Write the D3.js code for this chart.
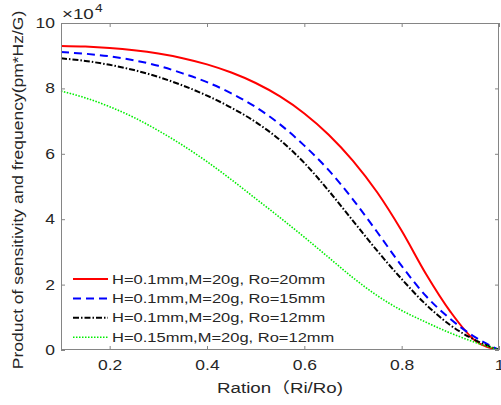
<!DOCTYPE html>
<html>
<head>
<meta charset="utf-8">
<script src="https://cdnjs.cloudflare.com/ajax/libs/d3/7.8.5/d3.min.js"></script>
<style>
  body { margin: 0; background: #fff; }
  svg { display: block; }
  text { font-family: "Liberation Sans", Arial, "Noto Sans CJK SC", sans-serif; fill: #262626; }
</style>
</head>
<body>
<svg id="chart" width="501" height="405"></svg>
<script>
// Ratio Ri/Ro
var ratios = [0.10, 0.15, 0.20, 0.25, 0.30, 0.35, 0.40, 0.45, 0.50, 0.55,
              0.60, 0.65, 0.70, 0.75, 0.80, 0.85, 0.90, 0.95, 1.00];

// product of sensitivity and frequency, in units of 1e4 pm*Hz/G
var ro20 = [9.30, 9.28, 9.235, 9.165, 9.065, 8.925, 8.735, 8.485, 8.165, 7.755,
            7.235, 6.585, 5.785, 4.815, 3.645, 2.325, 1.175, 0.30, 0.00];
var ro15 = [9.11, 9.06, 8.98, 8.86, 8.69, 8.46, 8.19, 7.85, 7.43, 6.90,
            6.25, 5.50, 4.60, 3.60, 2.57, 1.65, 0.95, 0.40, 0.00];
var ro12 = [8.92, 8.84, 8.72, 8.56, 8.35, 8.09, 7.78, 7.41, 6.97, 6.42,
            5.72, 4.87, 3.95, 3.03, 2.17, 1.39, 0.76, 0.31, 0.00];
var h015ro12 = [7.92, 7.71, 7.44, 7.11, 6.71, 6.26, 5.76, 5.21, 4.63, 4.05,
                3.45, 2.83, 2.21, 1.66, 1.21, 0.85, 0.52, 0.24, 0.00];

var legendLabels = ['H=0.1mm,M=20g, Ro=20mm', 'H=0.1mm,M=20g, Ro=15mm',
                    'H=0.1mm,M=20g, Ro=12mm', 'H=0.15mm,M=20g, Ro=12mm'];
var xTicks = [0.2, 0.4, 0.6, 0.8, 1];
var yTicks = [0, 2, 4, 6, 8, 10];

var series = [
  { values: ro20, color: '#ff0000', dash: null, width: 2 },
  { values: ro15, color: '#0000ff', dash: '8,5', width: 2 },
  { values: ro12, color: '#000000', dash: '6,2,1.5,2', width: 2 },
  { values: h015ro12, color: '#00ee00', dash: '1.5,1.5', width: 1.6 }
];

var stretch = 1.25,   // the glyphs in the picture are wide
    plotL = 61, plotR = 499, plotT = 23, plotB = 350,
    svg = d3.select('#chart'),

    x = d3.scaleLinear().domain([0.1, 1]).range([plotL, plotR]),
    y = d3.scaleLinear().domain([0, 10]).range([plotB, plotT]),

    line = d3.line()
      .x(function(d) { return x(d[0]); })
      .y(function(d) { return y(d[1]); })
      .curve(d3.curveMonotoneX),

    wide = function(sel) {
      sel.each(function() {
        var t = d3.select(this),
            tx = +t.attr('x') || 0;
        t.attr('x', 0).attr('transform', 'translate(' + tx + ',0) scale(' + stretch + ',1)');
      });
    };

series.forEach(function(s) {
  svg.append('path')
    .datum(ratios.map(function(r, i) { return [r, s.values[i]]; }))
    .attr('fill', 'none')
    .attr('stroke', s.color)
    .attr('stroke-width', s.width)
    .attr('stroke-dasharray', s.dash)
    .attr('d', line);
});

// box axes, ticks pointing in
var axisColor = '#858585',
    styleAxis = function(g) {
      g.select('.domain').remove();
      g.selectAll('line').attr('stroke', axisColor);
      g.selectAll('text').attr('fill', '#262626').style('font-size', '14px');
    };

svg.append('g')
  .attr('transform', 'translate(0,' + plotB + ')')
  .call(d3.axisBottom(x).tickValues(xTicks).tickSize(-4).tickPadding(10).tickFormat(d3.format('')))
  .call(styleAxis)
  .selectAll('text').attr('dy', '0.71em').call(wide);

svg.append('g')
  .attr('transform', 'translate(0,' + plotT + ')')
  .call(d3.axisTop(x).tickValues(xTicks).tickSize(-4).tickFormat(''))
  .call(styleAxis);

svg.append('g')
  .attr('transform', 'translate(' + plotL + ',0)')
  .call(d3.axisLeft(y).tickValues(yTicks).tickSize(-4).tickPadding(6))
  .call(styleAxis)
  .selectAll('text').call(wide);

svg.append('g')
  .attr('transform', 'translate(' + plotR + ',0)')
  .call(d3.axisRight(y).tickValues(yTicks).tickSize(-4).tickFormat(''))
  .call(styleAxis);

svg.append('rect')
  .attr('x', plotL + 0.5).attr('y', plotT + 0.5)
  .attr('width', plotR - plotL - 1).attr('height', plotB - plotT - 1)
  .attr('fill', 'none')
  .attr('stroke', axisColor);

// exponent note
var expo = svg.append('text')
  .attr('transform', 'translate(62,19) scale(' + stretch + ',1)')
  .style('font-size', '15px');
expo.append('tspan').text('\u00d710');
expo.append('tspan').attr('dx', 1).attr('dy', -7).style('font-size', '11px').text('4');

// axis titles
svg.append('text')
  .attr('transform', 'translate(280,388) scale(' + stretch + ',1)')
  .attr('text-anchor', 'middle')
  .attr('dy', '0.35em')
  .style('font-size', '15px')
  .text('Ration\uff08Ri/Ro)');

svg.append('text')
  .attr('transform', 'translate(18,190) rotate(-90) scale(' + stretch + ',1)')
  .attr('text-anchor', 'middle')
  .attr('dy', '0.35em')
  .style('font-size', '14px')
  .text('Product of sensitivity and frequency(pm*Hz/G)');

// legend, no box
var legend = svg.append('g')
  .selectAll('g')
  .data(series)
  .enter()
    .append('g')
    .attr('transform', function(d, i) { return 'translate(73,' + (279 + i * 19.4) + ')'; });

legend.append('line')
  .attr('x1', 0).attr('x2', 35)
  .attr('stroke', function(d) { return d.color; })
  .attr('stroke-width', function(d) { return d.width; })
  .attr('stroke-dasharray', function(d) { return d.dash; });

legend.append('text')
  .attr('transform', 'translate(39,0) scale(1.27,1)')
  .attr('dy', '0.35em')
  .style('font-size', '13px')
  .text(function(d, i) { return legendLabels[i]; });
</script>
</body>
</html>
